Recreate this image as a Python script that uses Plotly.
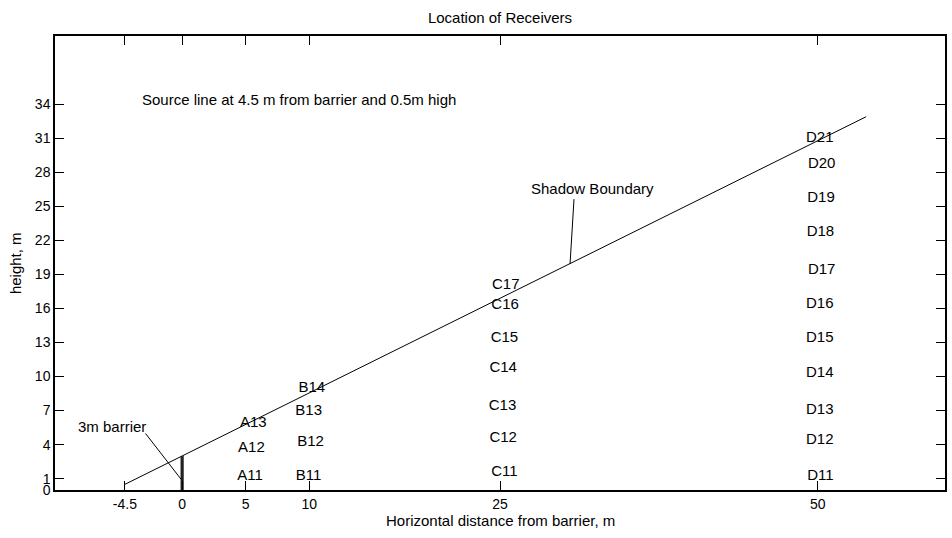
import plotly.graph_objects as go

# Receiver positions (horizontal distance, height) and their labels
receiver_names = ["A11", "A12", "A13",
                  "B11", "B12", "B13", "B14",
                  "C11", "C12", "C13", "C14", "C15", "C16", "C17",
                  "D11", "D12", "D13", "D14", "D15", "D16", "D17",
                  "D18", "D19", "D20", "D21"]
receiver_x = [5.35, 5.45, 5.6,
              9.95, 10.1, 9.95, 10.2,
              25.35, 25.25, 25.2, 25.25, 25.35, 25.4, 25.45,
              50.2, 50.15, 50.15, 50.15, 50.15, 50.15, 50.3,
              50.2, 50.25, 50.3, 50.15]
receiver_y = [1.2, 3.7, 5.85,
              1.2, 4.25, 6.95, 8.95,
              1.55, 4.6, 7.4, 10.7, 13.4, 16.25, 18.0,
              1.2, 4.4, 7.05, 10.25, 13.35, 16.4, 19.4,
              22.7, 25.7, 28.7, 30.95]

# Source line, barrier and shadow boundary geometry
source_x = -4.5
source_h = 0.5
barrier_x = 0
barrier_h = 3
shadow_end_x = 53.8

# Leader lines for the annotations
barrier_leader_x = [-2.88, -0.08]
barrier_leader_y = [4.98, 0.94]
shadow_leader_x = [30.82, 30.51]
shadow_leader_y = [25.63, 19.92]

x_ticks = [-4.5, 0, 5, 10, 25, 50]
x_tick_text = ["-4.5", "0", "5", "10", "25", "50"]
y_ticks = [0, 1, 4, 7, 10, 13, 16, 19, 22, 25, 28, 31, 34]

FONT = "Liberation Sans, Arial, sans-serif"
TEXT_SIZE = 15

slope = (barrier_h - source_h) / (barrier_x - source_x)
shadow_x = [source_x, shadow_end_x]
shadow_y = [source_h, source_h + slope * (shadow_end_x - source_x)]

fig = go.Figure()

# Shadow boundary line from the source over the barrier top
fig.add_trace(go.Scatter(x=shadow_x, y=shadow_y, mode="lines",
                         line=dict(color="black", width=1), hoverinfo="skip"))

# Barrier
fig.add_trace(go.Scatter(x=[barrier_x, barrier_x], y=[0, barrier_h], mode="lines",
                         line=dict(color="#222222", width=3.2), hoverinfo="skip"))

# Leader lines
fig.add_trace(go.Scatter(x=barrier_leader_x, y=barrier_leader_y, mode="lines",
                         line=dict(color="black", width=1), hoverinfo="skip"))
fig.add_trace(go.Scatter(x=shadow_leader_x, y=shadow_leader_y, mode="lines",
                         line=dict(color="black", width=1), hoverinfo="skip"))

# Receiver labels
fig.add_trace(go.Scatter(x=receiver_x, y=receiver_y, mode="text",
                         text=receiver_names, textposition="middle center",
                         textfont=dict(family=FONT, size=TEXT_SIZE, color="black"),
                         hoverinfo="skip"))

annotations = [
    dict(x=-3.35, y=34.4, xref="x", yref="y", xanchor="left", yanchor="middle",
         text="Source line at 4.5 m from barrier and 0.5m high", showarrow=False,
         font=dict(family=FONT, size=TEXT_SIZE, color="black")),
    dict(x=-8.31, y=5.56, xref="x", yref="y", xanchor="left", yanchor="middle",
         text="3m barrier", showarrow=False,
         font=dict(family=FONT, size=TEXT_SIZE, color="black")),
    dict(x=27.3, y=26.56, xref="x", yref="y", xanchor="left", yanchor="middle",
         text="Shadow Boundary", showarrow=False,
         font=dict(family=FONT, size=TEXT_SIZE, color="black")),
    dict(x=0.5, y=(490 - 521) / 454.5, xref="paper", yref="paper",
         xanchor="center", yanchor="middle",
         text="Horizontal distance from barrier, m", showarrow=False,
         font=dict(family=FONT, size=TEXT_SIZE, color="black")),
    dict(x=(15 - 55) / 892, y=0.5, xref="paper", yref="paper",
         xanchor="center", yanchor="middle", textangle=-90,
         text="height, m", showarrow=False,
         font=dict(family=FONT, size=TEXT_SIZE, color="black")),
]

axis_common = dict(showgrid=False, zeroline=False, showline=True, linecolor="black",
                   linewidth=1.5, mirror="ticks", ticks="inside", ticklen=9,
                   tickcolor="black", tickwidth=1,
                   tickfont=dict(family=FONT, size=14, color="black"))

fig.update_layout(
    width=952, height=538,
    margin=dict(l=55, r=5, t=35.5, b=48),
    paper_bgcolor="white", plot_bgcolor="white",
    showlegend=False,
    title=dict(text="Location of Receivers", x=0.5, xref="paper", xanchor="center",
               y=1 - 18 / 538, yref="container", yanchor="middle",
               font=dict(family=FONT, size=TEXT_SIZE, color="black")),
    xaxis=dict(range=[-10, 60], tickmode="array", tickvals=x_ticks,
               ticktext=x_tick_text, **axis_common),
    yaxis=dict(range=[0, 40], tickmode="array", tickvals=y_ticks, **axis_common),
    annotations=annotations,
    hovermode=False,
)

fig.write_html("out.html", config={"displayModeBar": False})
